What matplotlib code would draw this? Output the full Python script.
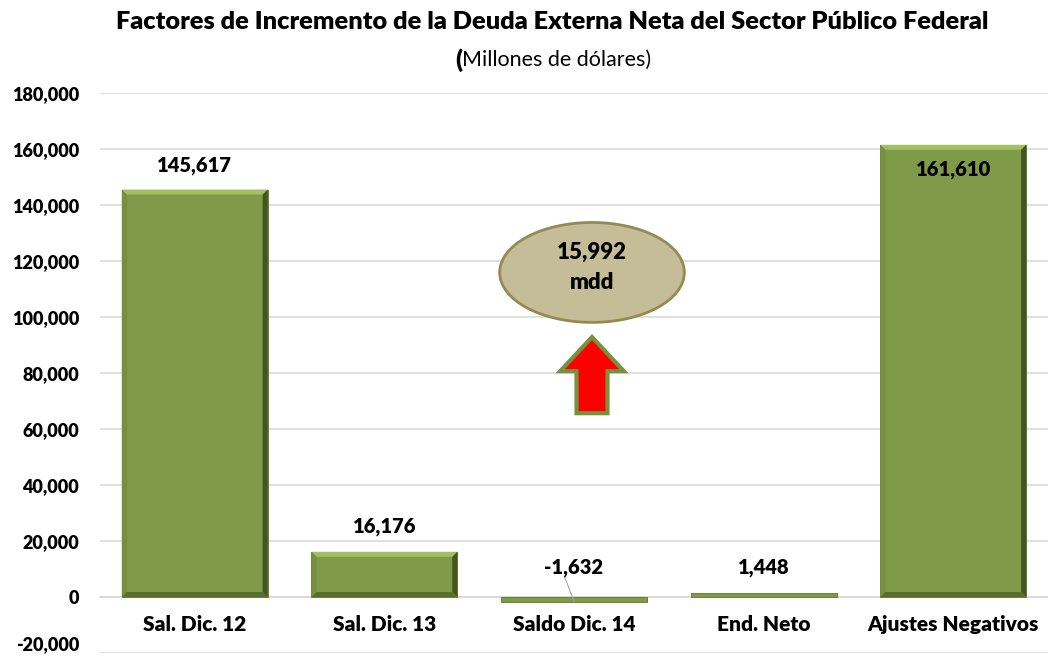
import matplotlib
matplotlib.use('Agg')
import matplotlib.pyplot as plt
from matplotlib.patches import Ellipse, Polygon
import numpy as np

plt.rcParams['font.family'] = ['Lato', 'DejaVu Sans']

categories = ['Sal. Dic. 12', 'Sal. Dic. 13', 'Saldo Dic. 14', 'End. Neto', 'Ajustes Negativos']
values = [145617, 16176, -1632, 1448, 161610]
value_labels = ['145,617', '16,176', '-1,632', '1,448', '161,610']
increase_label = '15,992\nmdd'

bar_face = '#7F9A48'
bar_top = '#A2BF63'
bar_left = '#76903F'
bar_right = '#44561F'
bar_bottom = '#586E2C'
W = 'heavy'

fig = plt.figure(figsize=(10.48, 6.6), dpi=100)
ax = fig.add_axes([0.0954, 0.0106, 0.9046, 0.848])

x = np.arange(len(categories))
width = 0.77
ax.set_xlim(-0.5, len(categories) - 0.5)
ax.set_ylim(-20000, 180000)

bars = ax.bar(x, values, width=width, color=bar_face, edgecolor='#5E7530', linewidth=0.6, zorder=3)

# bevel look on each bar
bx = 0.027
by = 1800
for rect in bars:
    x0 = rect.get_x()
    x1 = x0 + rect.get_width()
    y0 = min(rect.get_y(), rect.get_y() + rect.get_height())
    y1 = max(rect.get_y(), rect.get_y() + rect.get_height())
    if y1 - y0 < 3 * by:
        continue
    ax.add_patch(Polygon([[x0, y1], [x1, y1], [x1 - bx, y1 - by], [x0 + bx, y1 - by]],
                         closed=True, facecolor=bar_top, edgecolor='none', zorder=4))
    ax.add_patch(Polygon([[x0, y0], [x0, y1], [x0 + bx, y1 - by], [x0 + bx, y0 + by]],
                         closed=True, facecolor=bar_left, edgecolor='none', zorder=4))
    ax.add_patch(Polygon([[x1, y0], [x1, y1], [x1 - bx, y1 - by], [x1 - bx, y0 + by]],
                         closed=True, facecolor=bar_right, edgecolor='none', zorder=4))
    ax.add_patch(Polygon([[x0, y0], [x1, y0], [x1 - bx, y0 + by], [x0 + bx, y0 + by]],
                         closed=True, facecolor=bar_bottom, edgecolor='none', zorder=4))

# value labels
label_y = [values[0] + 8700, values[1] + 9000, 10700, 10400, values[4] - 9000]
for xi, ly, txt in zip(x, label_y, value_labels):
    ax.text(xi, ly, txt, ha='center', va='center', fontsize=14.5, fontweight=W,
            color='black', zorder=6)
# leader line for the negative label
ax.plot([x[2] - 0.05, x[2]], [7300, values[2]], color='#A6A6A6', lw=0.8, zorder=5)

# grid and axes
yticks = np.arange(-20000, 180001, 20000)
ax.set_yticks(yticks)
ax.set_yticklabels([f'{v:,}' for v in yticks], fontsize=13, fontweight=W)
ax.yaxis.grid(True, color='#D9D9D9', linewidth=1.2, zorder=0)
ax.set_axisbelow(True)
for s in ['top', 'right', 'left']:
    ax.spines[s].set_visible(False)
ax.spines['bottom'].set_position(('data', 0))
ax.spines['bottom'].set_color('#D9D9D9')
ax.spines['bottom'].set_linewidth(1.2)
ax.tick_params(axis='y', length=0, pad=15)
ax.tick_params(axis='x', length=0, pad=13)
ax.set_xticks(x)
ax.set_xticklabels(categories, fontsize=15, fontweight=W)
# keep the lowest tick label inside the figure
ax.get_yticklabels()[0].set_va('bottom')

# ellipse with increase
ex, ey = 2.095, 116000
ax.add_patch(Ellipse((ex, ey), 0.974, 35700, facecolor='#C4BD97', edgecolor='#948A54',
                     linewidth=2, zorder=5))
ax.text(ex, ey + 1800, increase_label, ha='center', va='center', fontsize=16,
        fontweight=W, linespacing=1.5, zorder=6)

# red arrow
sw, hw = 0.0816, 0.168
yb, yh, yt = 65700, 80700, 92900
ax.add_patch(Polygon([[ex - sw, yb], [ex + sw, yb], [ex + sw, yh], [ex + hw, yh],
                      [ex, yt], [ex - hw, yh], [ex - sw, yh]],
                     closed=True, facecolor='#FF0000', edgecolor='#76923C',
                     linewidth=3, joinstyle='miter', zorder=5))

fig.text(0.527, 0.966, 'Factores de Incremento de la Deuda Externa Neta del Sector Público Federal',
         ha='center', va='center', fontsize=18.3, fontweight=W)
fig.text(0.441, 0.909, '(', ha='right', va='center', fontsize=18, fontweight=W)
fig.text(0.441, 0.909, 'Millones de dólares)', ha='left', va='center', fontsize=15.5)

fig.savefig('out.png', dpi=100)
